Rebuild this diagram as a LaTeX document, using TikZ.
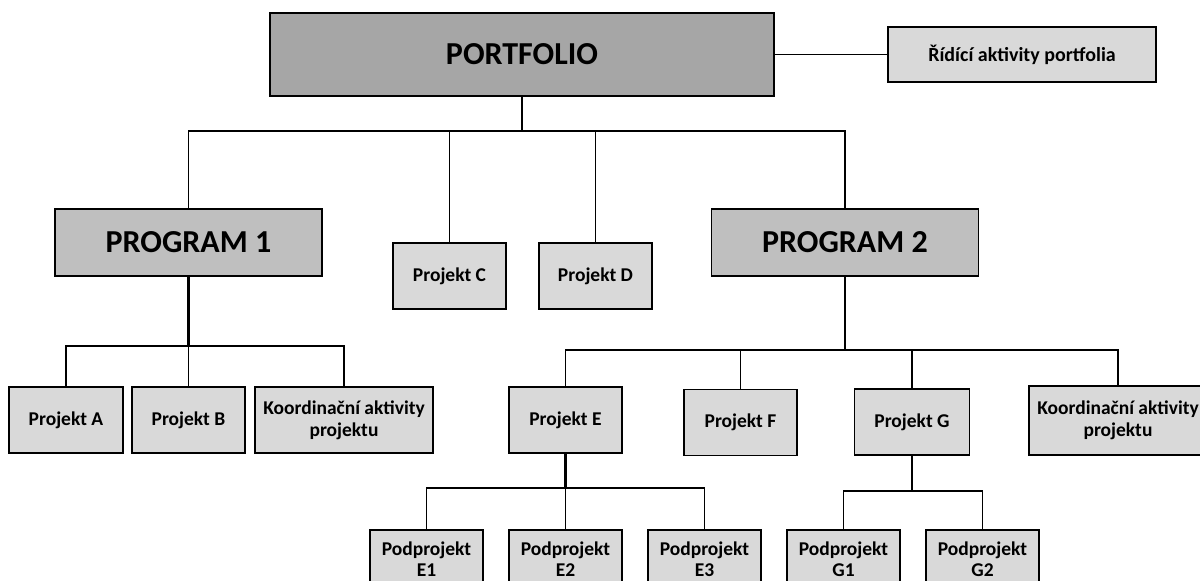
\documentclass[tikz,border=0pt]{standalone}
\usepackage{fontspec}
\setmainfont{Carlito}
\begin{document}
\begin{tikzpicture}[x=1pt,y=-1pt,
  box/.style={draw=black, line width=1.8pt, inner sep=0pt, align=center,
    font=\bfseries\fontsize{19.5}{22}\selectfont},
  top/.style={box, fill=topgray, minimum width=504pt, minimum height=83pt,
    font=\bfseries\fontsize{32}{36}\selectfont},
  prog/.style={box, fill=proggray, minimum width=267pt, minimum height=67pt,
    font=\bfseries\fontsize{32}{36}\selectfont},
  proj/.style={box, fill=projgray, minimum width=113pt, minimum height=66pt},
  wide/.style={proj, minimum width=178pt},
  sub/.style={proj, minimum height=58pt, font=\bfseries\fontsize{19.5}{21}\selectfont},
  link/.style={line width=1.5pt},
  stem/.style={line width=2.4pt}]
\definecolor{topgray}{HTML}{A6A6A6}
\definecolor{proggray}{HTML}{BFBFBF}
\definecolor{projgray}{HTML}{D9D9D9}
\useasboundingbox (0,0) rectangle (1200,581);
\clip (0,0) rectangle (1200,581);

% portfolio level
\node[top] (portfolio) at (522,54.5) {PORTFOLIO};
\node[proj, minimum width=268pt, minimum height=55pt,
  font=\bfseries\fontsize{20}{24}\selectfont] (ridici) at (1022,54.5) {Řídící aktivity portfolia};

% programmes and stand-alone projects
\node[prog] (prog1) at (188.5,242.5) {PROGRAM 1};
\node[prog] (prog2) at (845,242.5) {PROGRAM 2};
\node[proj] (pC) at (449.5,276) {Projekt C};
\node[proj] (pD) at (595.5,276) {Projekt D};

% projects of programme 1
\node[proj, minimum width=114pt] (pA) at (66,420) {Projekt A};
\node[proj] (pB) at (188.5,420) {Projekt B};
\node[wide] (kA) at (344,420) {Koordinační aktivity\\projektu};

% projects of programme 2
\node[proj] (pE) at (565.5,420) {Projekt E};
\node[proj] (pF) at (740.5,422.5) {Projekt F};
\node[proj, minimum width=115pt] (pG) at (912,422) {Projekt G};
\node[wide, minimum height=69pt] (kB) at (1118,420.5) {Koordinační aktivity\\projektu};

% subprojects (their boxes run on below the lower edge)
\node[sub] (e1) at (426.5,559) {Podprojekt\\E1};
\node[sub] (e2) at (565.5,559) {Podprojekt\\E2};
\node[sub] (e3) at (704.5,559) {Podprojekt\\E3};
\node[sub] (g1) at (843.5,559) {Podprojekt\\G1};
\node[sub] (g2) at (982.5,559) {Podprojekt\\G2};

% bus junctions
\coordinate (b0) at (522,131);
\coordinate (b1) at (188.5,346);
\coordinate (b2) at (845,350);
\coordinate (b3) at (565.5,488);
\coordinate (b4) at (912,491);

% connectors
\draw[link] (portfolio.east) -- (ridici.west);

\draw[stem] (portfolio.south) -- (b0);
\draw[link] (prog1.north) |- (b0) -| (prog2.north);
\draw[link] (pC.north) -- (pC.north |- b0);
\draw[link] (pD.north) -- (pD.north |- b0);

\draw[stem] (prog1.south) -- (b1);
\draw[link] (pA.north) |- (b1) -| (kA.north);
\draw[link] (pB.north) -- (b1);

\draw[stem] (prog2.south) -- (b2);
\draw[link] (pE.north) |- (b2) -| (kB.north);
\draw[link] (pF.north) -- (pF.north |- b2);
\draw[link] (pG.north) -- (pG.north |- b2);

\draw[stem] (pE.south) -- (b3);
\draw[link] (e1.north) |- (b3) -| (e3.north);
\draw[link] (e2.north) -- (b3);

\draw[stem] (pG.south) -- (b4);
\draw[link] (g1.north) |- (b4) -| (g2.north);
\end{tikzpicture}
\end{document}
